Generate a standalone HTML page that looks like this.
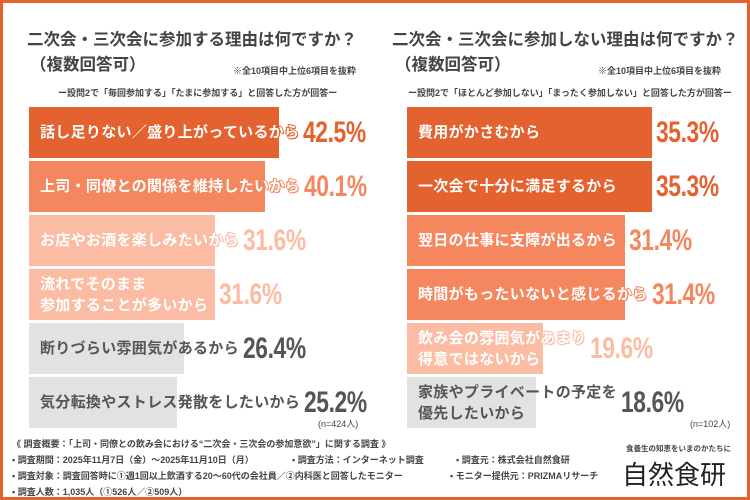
<!DOCTYPE html>
<html><head><meta charset="utf-8"><style>
body{margin:0;width:750px;height:500px;overflow:hidden;background:#fff;font-family:"Liberation Sans","Noto Sans CJK JP",sans-serif;}
#frame{position:absolute;left:0;top:0;width:744px;height:494px;border:3px solid #e4622f;}
.t{position:absolute;white-space:nowrap;color:#444;font-weight:bold;}
.bar{position:absolute;height:51px;}
.lab{position:absolute;font-weight:bold;font-size:15px;line-height:21px;white-space:nowrap;display:flex;align-items:center;letter-spacing:0.3px;}
.val{display:inline-block;font-size:30px;font-weight:bold;margin-left:4px;letter-spacing:-0.5px;transform:scaleX(0.76);transform-origin:left center;}
.ft{position:absolute;font-size:9px;color:#444;white-space:nowrap;font-weight:bold;}
</style></head><body>
<div id="frame"></div>
<div class="t" style="left:27px;top:26px;font-size:16.5px">二次会・三次会に参加する理由は何ですか？</div>
<div class="t" style="left:30px;top:51px;font-size:16.5px">（複数回答可）</div>
<div class="t" style="left:233px;top:64px;font-size:9px">※全10項目中上位6項目を抜粋</div>
<div class="t" style="left:58px;top:86px;font-size:9px">ー設問2で「毎回参加する」「たまに参加する」と回答した方が回答ー</div>
<div class="t" style="left:392px;top:26px;font-size:16.5px">二次会・三次会に参加しない理由は何ですか？</div>
<div class="t" style="left:395px;top:51px;font-size:16.5px">（複数回答可）</div>
<div class="t" style="left:598px;top:64px;font-size:9px">※全10項目中上位6項目を抜粋</div>
<div class="t" style="left:408px;top:86px;font-size:9px">ー設問2で「ほとんど参加しない」「まったく参加しない」と回答した方が回答ー</div>
<div class="t" style="left:318px;top:417px;font-size:9px;font-weight:normal">(n=424人)</div>
<div class="t" style="left:690px;top:417px;font-size:9px;font-weight:normal">(n=102人)</div>
<div id="charts"></div>
<div class="ft" style="left:12px;top:437px">《 調査概要：「上司・同僚との飲み会における“二次会・三次会の参加意欲”」に関する調査 》</div>
<div class="ft" style="left:12px;top:453px">▪ 調査期間：2025年11月7日（金）〜2025年11月10日（月）</div>
<div class="ft" style="left:292px;top:453px">▪ 調査方法：インターネット調査</div>
<div class="ft" style="left:456px;top:453px">▪ 調査元：株式会社自然食研</div>
<div class="ft" style="left:12px;top:469px">▪ 調査対象：調査回答時に①週1回以上飲酒する20〜60代の会社員／②内科医と回答したモニター</div>
<div class="ft" style="left:450px;top:469px">▪ モニター提供元：PRIZMAリサーチ</div>
<div class="ft" style="left:12px;top:485px">▪ 調査人数：1,035人（①526人／②509人）</div>
<div class="ft" style="left:626px;top:443px;font-size:7.5px">食養生の知恵をいまのかたちに</div>
<div class="t" style="left:622px;top:455px;font-size:26px;font-weight:normal;color:#222">自然食研</div>
<script>
const leftLabels=["話し足りない／盛り上がっているから","上司・同僚との関係を維持したいから","お店やお酒を楽しみたいから","流れでそのまま<br>参加することが多いから","断りづらい雰囲気があるから","気分転換やストレス発散をしたいから"];
const leftValues=[42.5,40.1,31.6,31.6,26.4,25.2];
const rightLabels=["費用がかさむから","一次会で十分に満足するから","翌日の仕事に支障が出るから","時間がもったいないと感じるから","飲み会の雰囲気があまり<br>得意ではないから","家族やプライベートの予定を<br>優先したいから"];
const rightValues=[35.3,35.3,31.4,31.4,19.6,18.6];
const leftTiers=[0,1,2,2,3,3];
const rightTiers=[0,0,1,1,2,3];
const barCol=["#e4622f","#f5875f","#fbbca3","#e2e2e2"];
const valCol=["#e4622f","#f5875f","#fbbca3","#555"];
const labCol=["#fff","#fff","#fff","#555"];
function draw(labels,values,tiers,x0,scale,prefix){
  const c=document.getElementById('charts');
  values.forEach((v,i)=>{
    const y=107+i*54;
    const b=document.createElement('div');
    b.className='bar';
    
    
    b.style.left=x0+'px';b.style.top=y+'px';b.style.width=(v*scale)+'px';b.style.background=barCol[tiers[i]];
    c.appendChild(b);
    const l=document.createElement('div');
    l.className='lab';
    
    
    l.style.left=(x0+11)+'px';l.style.top=y+'px';l.style.height='51px';
    const s=document.createElement('span');
    s.innerHTML=labels[i];s.style.color=labCol[tiers[i]];
    if(tiers[i]<3){const k=barCol[tiers[i]];s.style.textShadow=`1px 0 0 ${k},-1px 0 0 ${k},0 1px 0 ${k},0 -1px 0 ${k},1px 1px 0 ${k},-1px -1px 0 ${k}`;}
    l.appendChild(s);
    const vv=document.createElement('span');
    vv.className='val';
    
    
    vv.textContent=v.toFixed(1)+'%';vv.style.color=valCol[tiers[i]];
    l.appendChild(vv);
    c.appendChild(l);
    const endBar=x0+v*scale;
    const labEnd=x0+11+s.offsetWidth;
    if(endBar>labEnd){vv.style.marginLeft=(endBar-labEnd+4)+'px';}
  });
}
draw(leftLabels,leftValues,leftTiers,29,5.88,'left');
draw(rightLabels,rightValues,rightTiers,407,6.94,'right');
</script>
</body></html>
